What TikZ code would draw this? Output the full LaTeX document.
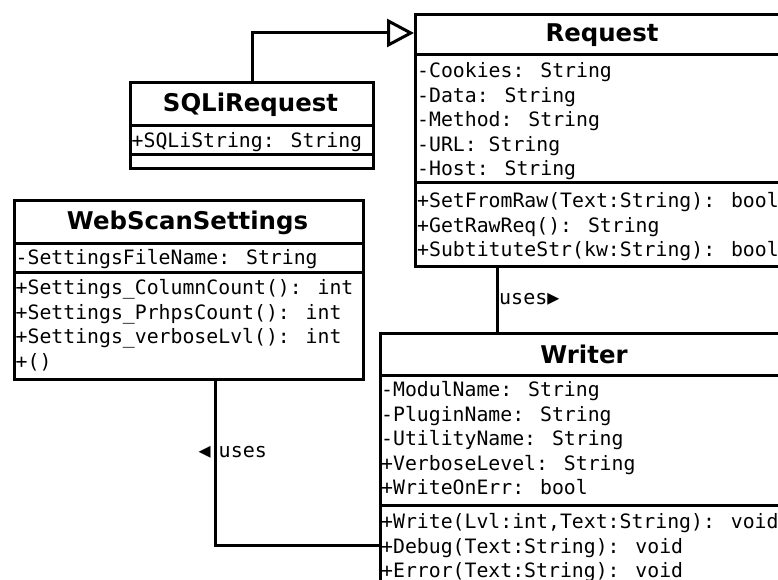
\documentclass[tikz,border=0pt]{standalone}
\usepackage{fontspec}
\setmainfont{DejaVu Sans}
\newfontfamily\umlmono{DejaVu Sans Mono}
\usetikzlibrary{arrows.meta}
\begin{document}
\begin{tikzpicture}[x=1pt,y=-1pt,
  classbox/.style={draw, line width=3pt, inner sep=0pt, anchor=north west},
  classtitle/.style={font=\fontsize{24.4}{28}\selectfont\bfseries, inner sep=0pt},
  member/.style={font=\umlmono\fontsize{19.8}{24}\selectfont, inner sep=0pt, anchor=mid west},
  sepline/.style={line width=3pt},
  link/.style={line width=3pt},
  assoclabel/.style={font=\umlmono\fontsize{20}{24}\selectfont, inner sep=0pt, anchor=mid west},
  ]
\useasboundingbox (0,0) rectangle (778,580);
\fill[white] (0,0) rectangle (778,580);

% ---------- Request ----------
\node[classbox, minimum width=376pt, minimum height=252pt] (request) at (414,13) {};
\draw[sepline] (request.west |- 0,55) -- (request.east |- 0,55);
\draw[sepline] (request.west |- 0,182) -- (request.east |- 0,182);
\node[classtitle] (reqtitle) at (602,35) {Request};
\foreach \t [count=\i from 0] in {{-Cookies: String},{-Data: String},{-Method: String},{-URL: String},{-Host: String}}
  \node[member] (reqa\i) at (417,75+24.5*\i) {\t};
\foreach \t [count=\i from 0] in {{+SetFromRaw(Text:String): bool},{+GetRawReq(): String},{+SubtituteStr(kw:String): bool}}
  \node[member] (reqm\i) at (417,205+24.5*\i) {\t};

% ---------- SQLiRequest ----------
\node[classbox, minimum width=243pt, minimum height=86pt] (sqli) at (129,81) {};
\draw[sepline] (sqli.west |- 0,126) -- (sqli.east |- 0,126);
\draw[sepline] (sqli.west |- 0,155) -- (sqli.east |- 0,155);
\node[classtitle] (sqlititle) at (250.5,105) {SQLiRequest};
\node[member] (sqlia0) at (131.5,144.5) {+SQLiString: String};

% ---------- WebScanSettings ----------
\node[classbox, minimum width=349pt, minimum height=179pt] (wss) at (13,199) {};
\draw[sepline] (wss.west |- 0,243) -- (wss.east |- 0,243);
\draw[sepline] (wss.west |- 0,272) -- (wss.east |- 0,272);
\node[classtitle] (wsstitle) at (187.5,222.5) {WebScanSettings};
\node[member] (wssa0) at (15.5,262) {-SettingsFileName: String};
\foreach \t [count=\i from 0] in {{+Settings\_ColumnCount(): int},{+Settings\_PrhpsCount(): int},{+Settings\_verboseLvl(): int},{+()}}
  \node[member] (wssm\i) at (15.5,292+24.5*\i) {\t};

% ---------- Writer ----------
\node[classbox, minimum width=410pt, minimum height=280pt] (writer) at (379,332) {};
\draw[sepline] (writer.west |- 0,375) -- (writer.east |- 0,375);
\draw[sepline] (writer.west |- 0,505) -- (writer.east |- 0,505);
\node[classtitle] (writertitle) at (584,354.5) {Writer};
\foreach \t [count=\i from 0] in {{-ModulName: String},{-PluginName: String},{-UtilityName: String},{+VerboseLevel: String},{+WriteOnErr: bool}}
  \node[member] (wra\i) at (381,394+24.5*\i) {\t};
\foreach \t [count=\i from 0] in {{+Write(Lvl:int,Text:String): void},{+Debug(Text:String): void},{+Error(Text:String): void}}
  \node[member] (wrm\i) at (381,526+24.5*\i) {\t};

% ---------- Connectors ----------
\draw[link, -{Triangle[open, length=27pt, width=28pt]}] (sqli.north) |- (request.west |- 0,33);
\draw[link] (request.south -| 497,0) -- (writer.north -| 497,0);
\coordinate (ulabel) at (request.south -| 499,0);
\node[assoclabel, yshift=-34pt] (uses1) at (ulabel) {uses▶};
\draw[link] (wss.south -| 215,0) |- (writer.west |- 0,545);
\node[assoclabel] (uses2) at (198.5,454.5) {◀\kern8pt uses};
\end{tikzpicture}
\end{document}
